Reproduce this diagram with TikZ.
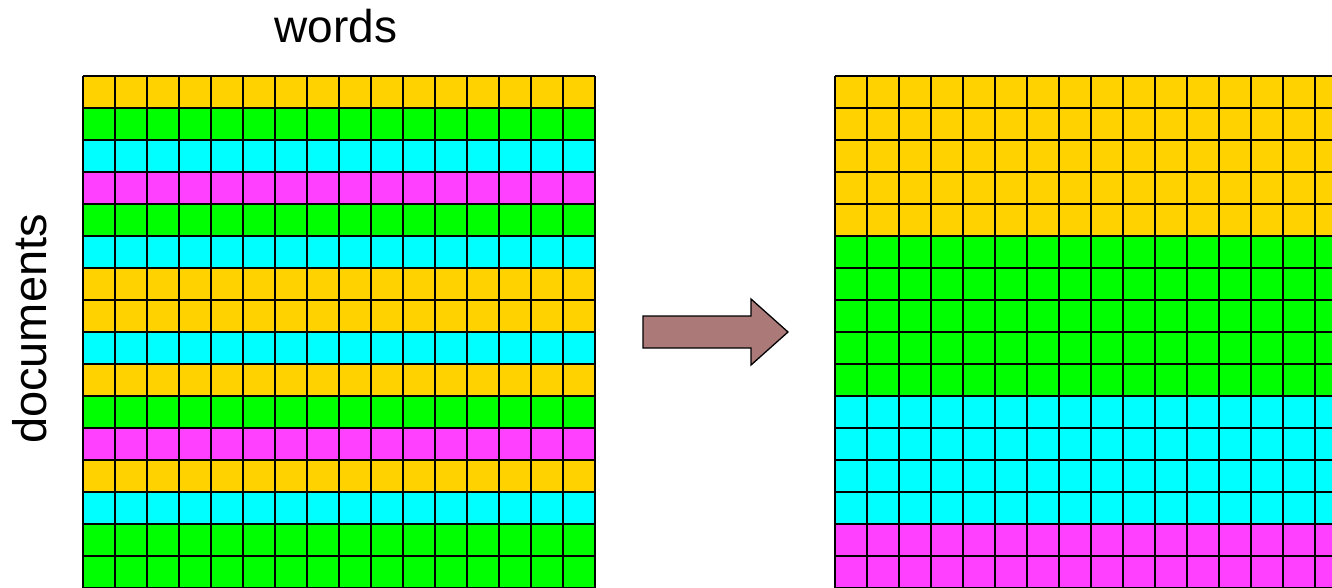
\documentclass[tikz,border=0pt]{standalone}
\usepackage{fontspec}
\setmainfont{Liberation Sans}
\definecolor{rowY}{RGB}{255,210,0}
\definecolor{rowG}{RGB}{0,255,0}
\definecolor{rowC}{RGB}{0,255,255}
\definecolor{rowM}{RGB}{255,64,255}
\definecolor{arrowfill}{RGB}{171,122,120}
\tikzset{
  gridline/.style={black,line width=1.6pt},
  label/.style={font=\fontsize{46}{50}\selectfont,inner sep=0pt},
  bigarrow/.style={fill=arrowfill,draw=black,line width=1.3pt,line join=miter}
}
\begin{document}
\begin{tikzpicture}[x=1pt,y=-1pt]
\useasboundingbox (0,0) rectangle (1332,587);
\clip (0,0) rectangle (1332,587);
% left matrix rows
\foreach \c [count=\i from 0] in {rowY,rowG,rowC,rowM,rowG,rowC,rowY,rowY,rowC,rowY,rowG,rowM,rowY,rowC,rowG,rowG}
  \fill[fill=\c] (83,76+32*\i) rectangle (595,108+32*\i);
% right matrix rows (sorted)
\foreach \c [count=\i from 0] in {rowY,rowY,rowY,rowY,rowY,rowG,rowG,rowG,rowG,rowG,rowC,rowC,rowC,rowC,rowM,rowM}
  \fill[fill=\c] (835,76+32*\i) rectangle (1347,108+32*\i);
% grid lines
\foreach \k in {0,...,16} {
  \draw[gridline] (83+32*\k,76) -- (83+32*\k,588);
  \draw[gridline] (83,76+32*\k) -- (595,76+32*\k);
  \draw[gridline] (835+32*\k,76) -- (835+32*\k,588);
  \draw[gridline] (835,76+32*\k) -- (1347,76+32*\k);
}
% labels
\node[label,anchor=base] (words) at (336,42) {words};
\node[label,font=\fontsize{47}{50}\selectfont,rotate=90,anchor=base] (docs) at (46,329) {documents};
% arrow
\draw[bigarrow] (643,316) -- (751,316) -- (751,299) -- (788,332) -- (751,365) -- (751,348) -- (643,348) -- cycle;
\end{tikzpicture}
\end{document}
